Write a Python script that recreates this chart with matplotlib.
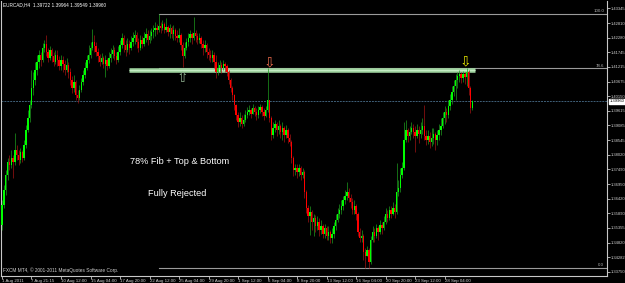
import matplotlib
matplotlib.use("Agg")
import matplotlib.pyplot as plt

# ---------------- data ----------------
chart_title = "EURCAD,H4  1.39722 1.39964 1.39549 1.39960"
copyright_text = "FXCM MT4, \u00a9 2001-2011 MetaQuotes Software Corp."
note_line1 = "78% Fib + Top & Bottom"
note_line2 = "Fully Rejected"

first_open = 1.3546
closes = [
 1.3619,1.3673,1.3728,1.3775,1.3764,1.3790,1.3775,1.3819,1.3801,1.3783,
 1.3812,1.3790,1.3837,1.3892,1.3935,1.3983,1.4045,1.4074,1.4110,1.4139,
 1.4165,1.4147,1.4190,1.4205,1.4176,1.4154,1.4183,1.4161,1.4139,1.4165,
 1.4147,1.4125,1.4147,1.4132,1.4110,1.4128,1.4103,1.4074,1.4045,1.4067,
 1.4019,1.4008,1.4037,1.4067,1.4092,1.4117,1.4147,1.4165,1.4190,1.4212,
 1.4198,1.4176,1.4161,1.4139,1.4154,1.4132,1.4147,1.4125,1.4154,1.4168,
 1.4183,1.4161,1.4147,1.4176,1.4201,1.4227,1.4201,1.4183,1.4205,1.4190,
 1.4212,1.4227,1.4238,1.4212,1.4190,1.4219,1.4205,1.4227,1.4241,1.4219,
 1.4234,1.4249,1.4256,1.4263,1.4256,1.4270,1.4263,1.4278,1.4256,1.4267,
 1.4249,1.4263,1.4241,1.4256,1.4234,1.4227,1.4238,1.4201,1.4161,1.4190,
 1.4212,1.4227,1.4241,1.4227,1.4245,1.4234,1.4219,1.4227,1.4205,1.4190,
 1.4201,1.4176,1.4165,1.4154,1.4165,1.4139,1.4103,1.4117,1.4128,1.4117,
 1.4132,1.4125,1.4103,1.4074,1.4045,1.4019,1.3983,1.3946,1.3921,1.3935,
 1.3914,1.3928,1.3946,1.3957,1.3965,1.3950,1.3972,1.3957,1.3946,1.3965,
 1.3975,1.3957,1.3943,1.3965,1.4001,1.3935,1.3874,1.3899,1.3914,1.3892,
 1.3906,1.3885,1.3899,1.3874,1.3892,1.3863,1.3848,1.3790,1.3746,1.3753,
 1.3739,1.3753,1.3728,1.3739,1.3666,1.3608,1.3579,1.3593,1.3557,1.3571,
 1.3542,1.3557,1.3528,1.3542,1.3513,1.3535,1.3506,1.3521,1.3499,1.3513,
 1.3542,1.3564,1.3586,1.3601,1.3615,1.3637,1.3652,1.3666,1.3644,1.3630,
 1.3601,1.3615,1.3586,1.3521,1.3499,1.3506,1.3448,1.3433,1.3455,1.3411,
 1.3491,1.3521,1.3506,1.3535,1.3521,1.3546,1.3535,1.3557,1.3586,1.3571,
 1.3601,1.3586,1.3608,1.3593,1.3666,1.3681,1.3728,1.3753,1.3855,1.3892,
 1.3870,1.3885,1.3899,1.3885,1.3870,1.3892,1.3877,1.3892,1.3906,1.3870,
 1.3855,1.3870,1.3848,1.3863,1.3877,1.3855,1.3874,1.3892,1.3906,1.3935,
 1.3957,1.3946,1.3979,1.4001,1.4030,1.4052,1.4074,1.4088,1.4096,1.4081,
 1.4096,1.4085,1.4103,1.4045,1.3972,1.3996]
highs = [
 1.3637,1.3692,1.3746,1.3790,1.3801,1.3819,1.3801,1.3881,1.3837,1.3819,
 1.3826,1.3819,1.3855,1.3910,1.3965,1.4001,1.4110,1.4103,1.4139,1.4165,
 1.4183,1.4176,1.4208,1.4219,1.4238,1.4190,1.4198,1.4190,1.4176,1.4183,
 1.4183,1.4161,1.4165,1.4161,1.4147,1.4154,1.4139,1.4117,1.4088,1.4092,
 1.4074,1.4037,1.4056,1.4081,1.4110,1.4139,1.4165,1.4201,1.4212,1.4259,
 1.4238,1.4212,1.4190,1.4168,1.4172,1.4161,1.4165,1.4154,1.4176,1.4190,
 1.4201,1.4194,1.4176,1.4198,1.4219,1.4245,1.4238,1.4219,1.4227,1.4219,
 1.4234,1.4249,1.4256,1.4249,1.4227,1.4238,1.4234,1.4249,1.4263,1.4256,
 1.4256,1.4263,1.4274,1.4285,1.4278,1.4314,1.4285,1.4292,1.4285,1.4299,
 1.4274,1.4278,1.4270,1.4274,1.4263,1.4256,1.4263,1.4245,1.4212,1.4212,
 1.4227,1.4245,1.4256,1.4249,1.4303,1.4256,1.4245,1.4245,1.4234,1.4219,
 1.4219,1.4208,1.4190,1.4183,1.4183,1.4176,1.4165,1.4139,1.4147,1.4139,
 1.4147,1.4139,1.4132,1.4110,1.4081,1.4052,1.4023,1.3986,1.3957,1.3957,
 1.3946,1.3950,1.3965,1.3975,1.3983,1.3972,1.3986,1.3979,1.3972,1.3979,
 1.3986,1.3983,1.3972,1.3979,1.4117,1.4001,1.3943,1.3921,1.3928,1.3921,
 1.3928,1.3914,1.3921,1.3906,1.3910,1.3899,1.3877,1.3855,1.3797,1.3768,
 1.3768,1.3768,1.3761,1.3753,1.3746,1.3673,1.3619,1.3615,1.3601,1.3586,
 1.3583,1.3579,1.3571,1.3564,1.3550,1.3550,1.3542,1.3542,1.3528,1.3535,
 1.3557,1.3586,1.3608,1.3622,1.3637,1.3652,1.3673,1.3703,1.3681,1.3659,
 1.3644,1.3637,1.3622,1.3593,1.3535,1.3528,1.3513,1.3462,1.3470,1.3462,
 1.3506,1.3542,1.3535,1.3550,1.3542,1.3564,1.3557,1.3579,1.3608,1.3601,
 1.3615,1.3615,1.3630,1.3622,1.3772,1.3710,1.3753,1.3775,1.3921,1.3928,
 1.3899,1.3906,1.3921,1.3914,1.3906,1.3914,1.3906,1.3921,1.3935,1.3983,
 1.3892,1.3892,1.3885,1.3899,1.3899,1.3885,1.3892,1.3914,1.3935,1.3957,
 1.3979,1.3972,1.4001,1.4023,1.4052,1.4074,1.4096,1.4103,1.4110,1.4103,
 1.4107,1.4103,1.4117,1.4110,1.4052,1.4001]
lows = [
 1.3528,1.3608,1.3655,1.3710,1.3746,1.3753,1.3717,1.3764,1.3783,1.3764,
 1.3772,1.3775,1.3783,1.3826,1.3885,1.3921,1.3972,1.4019,1.4056,1.4092,
 1.4117,1.4125,1.4139,1.4176,1.4161,1.4139,1.4147,1.4139,1.4125,1.4132,
 1.4125,1.4110,1.4110,1.4103,1.4092,1.4103,1.4081,1.4056,1.4026,1.4030,
 1.4001,1.3990,1.4001,1.4030,1.4056,1.4081,1.4110,1.4136,1.4154,1.4183,
 1.4176,1.4161,1.4139,1.4125,1.4132,1.4117,1.4085,1.4110,1.4117,1.4139,
 1.4154,1.4147,1.4132,1.4139,1.4165,1.4190,1.4176,1.4161,1.4176,1.4168,
 1.4183,1.4198,1.4205,1.4190,1.4176,1.4183,1.4190,1.4198,1.4212,1.4201,
 1.4208,1.4219,1.4227,1.4234,1.4241,1.4249,1.4245,1.4256,1.4245,1.4249,
 1.4234,1.4227,1.4227,1.4219,1.4219,1.4212,1.4212,1.4183,1.4121,1.4154,
 1.4183,1.4198,1.4212,1.4205,1.4219,1.4212,1.4205,1.4208,1.4190,1.4165,
 1.4176,1.4154,1.4147,1.4139,1.4139,1.4117,1.4081,1.4092,1.4103,1.4099,
 1.4110,1.4103,1.4088,1.4059,1.4030,1.4001,1.3965,1.3928,1.3903,1.3906,
 1.3899,1.3906,1.3921,1.3935,1.3946,1.3935,1.3950,1.3943,1.3928,1.3935,
 1.3954,1.3943,1.3928,1.3939,1.3957,1.3921,1.3855,1.3863,1.3885,1.3870,
 1.3877,1.3863,1.3855,1.3848,1.3863,1.3845,1.3834,1.3772,1.3724,1.3728,
 1.3717,1.3724,1.3710,1.3717,1.3644,1.3590,1.3557,1.3510,1.3528,1.3506,
 1.3521,1.3528,1.3506,1.3513,1.3499,1.3499,1.3491,1.3491,1.3480,1.3480,
 1.3499,1.3528,1.3557,1.3571,1.3586,1.3601,1.3622,1.3637,1.3630,1.3608,
 1.3586,1.3586,1.3564,1.3506,1.3484,1.3484,1.3419,1.3389,1.3433,1.3389,
 1.3404,1.3484,1.3484,1.3499,1.3491,1.3513,1.3513,1.3528,1.3550,1.3557,
 1.3564,1.3571,1.3583,1.3571,1.3586,1.3652,1.3666,1.3717,1.3746,1.3848,
 1.3848,1.3855,1.3877,1.3863,1.3812,1.3863,1.3845,1.3863,1.3877,1.3855,
 1.3837,1.3841,1.3826,1.3834,1.3841,1.3819,1.3837,1.3855,1.3874,1.3899,
 1.3914,1.3921,1.3935,1.3965,1.3986,1.4016,1.4001,1.4045,1.4067,1.4063,
 1.4067,1.4059,1.4052,1.4019,1.3954,1.3965]

x_tick_bars = [0, 16, 32, 48, 64, 80, 96, 112, 128, 144, 160, 176, 192, 208, 224, 240]
x_tick_labels = ["1 Aug 2011", "7 Aug 21:15", "10 Aug 12:00", "15 Aug 04:00",
                 "17 Aug 20:00", "22 Aug 12:00", "25 Aug 04:00", "29 Aug 20:00",
                 "1 Sep 12:00", "6 Sep 04:00", "8 Sep 20:00", "13 Sep 12:00",
                 "16 Sep 04:00", "20 Sep 20:00", "23 Sep 12:00", "28 Sep 04:00"]
y_tick_values = [1.43345, 1.42810, 1.42280, 1.41745, 1.41215, 1.40675, 1.40150,
                 1.39615, 1.39085, 1.38545, 1.38020, 1.37490, 1.36950, 1.36420,
                 1.35890, 1.35355, 1.34820, 1.34282, 1.33750]

current_price = 1.39960
fib_high = 1.4314
fib_low = 1.3389
fib_start_bar = 85
fib_levels = [0.0, 78.6, 100.0]
zone_price = 1.4109
zone_start_bar = 68.9
zone_end_bar = 256.4
arrow_marks = [  # (bar, price, glyph, colour)
    (97.6, 1.4082, "\u21e7", "#8fb08f"),
    (144.8, 1.4136, "\u21e9", "#e8694a"),
    (251.6, 1.4140, "\u21e9", "#e8e800"),
]

# ---------------- figure ----------------
W, H = 625, 283
FONT = "Liberation Sans"
fig = plt.figure(figsize=(W / 100, H / 100), dpi=100, facecolor="black")
ax = fig.add_axes([1 / W, 7 / H, 606 / W, 275 / H], facecolor="black")
ax.set_xlim(-0.54, 328.1)
ax.set_ylim(1.33604, 1.43614)

GREY = "#9a9a9a"

# current price line
ax.axhline(current_price, color="#3f5f78", lw=0.7, ls=(0, (2, 1)), zorder=1)

# fibonacci lines
for lev in fib_levels:
    p = fib_low + (fib_high - fib_low) * lev / 100.0
    ax.plot([fib_start_bar, 328.1], [p, p], color=GREY, lw=0.8, zorder=2)
    ax.annotate(f"{lev:.1f}", xy=(1.0, p), xycoords=("axes fraction", "data"),
                xytext=(-2, 0.5), textcoords="offset points", ha="right", va="bottom",
                color="#b0b0b0", fontsize=3.2, family=FONT)

# zone band
ax.plot([zone_start_bar, zone_end_bar], [zone_price, zone_price], color="#9fd39f",
        lw=3.3, solid_capstyle="butt", zorder=3)
ax.plot([zone_start_bar, zone_end_bar], [zone_price, zone_price], color="#c4ecc4",
        lw=0.8, solid_capstyle="butt", zorder=3)

# candles
opens = [first_open] + closes[:-1]
for i, (o, h, l, c) in enumerate(zip(opens, highs, lows, closes)):
    up = c >= o
    wick_col = "#1e9a1e" if up else "#a01414"
    body_col = "#00ff00" if up else "#ff0000"
    ax.vlines(i, min(l, o, c), max(h, o, c), color=wick_col, lw=0.5, zorder=4)
    lo_b, hi_b = min(o, c), max(o, c)
    if hi_b - lo_b < 0.00015:
        hi_b = lo_b + 0.00015
    ax.bar(i, hi_b - lo_b, bottom=lo_b, width=0.75, color=body_col, lw=0, zorder=5)

# arrows
for b, p, g, col in arrow_marks:
    ax.text(b, p, g, color=col, fontsize=10, ha="center", va="center",
            family="DejaVu Sans", zorder=6)

# axes styling
ax.spines["top"].set_visible(False)
for s in ["left", "bottom", "right"]:
    ax.spines[s].set_color("#c8c8c8")
    ax.spines[s].set_linewidth(0.8)
ax.yaxis.tick_right()
ax.set_yticks(y_tick_values)
ax.set_yticklabels([f"{v:.5f}" for v in y_tick_values])
ax.tick_params(axis="y", colors="#c8c8c8", length=2, width=0.6, pad=0.8,
               labelsize=3.0, labelcolor="#d0d0d0")
ax.set_xticks(x_tick_bars)
ax.set_xticklabels(x_tick_labels, ha="left")
ax.tick_params(axis="x", colors="#c8c8c8", length=2, width=0.6, pad=0.5,
               labelsize=3.2, labelcolor="#d0d0d0")
for lab in ax.get_xticklabels() + ax.get_yticklabels():
    lab.set_family(FONT)

# current price label
ax.annotate(f"{current_price:.5f}", xy=(1.0, current_price),
            xycoords=("axes fraction", "data"), xytext=(1.6, 0),
            textcoords="offset points", ha="left", va="center", fontsize=3.0,
            family=FONT, color="black",
            bbox=dict(boxstyle="square,pad=0.15", fc="white", ec="white"))

# texts
def fpos(x, y):
    return x / W, 1 - y / H

fig.text(*fpos(3, 5), chart_title, color="white", fontsize=3.4,
         family=FONT, va="center", ha="left")
fig.text(*fpos(3, 270), copyright_text, color="#d0d0d0", fontsize=3.4,
         family=FONT, va="center", ha="left")
fig.text(*fpos(180, 162), note_line1, color="white", fontsize=6.6,
         family=FONT, va="center", ha="center")
fig.text(*fpos(177, 193), note_line2, color="white", fontsize=6.6,
         family=FONT, va="center", ha="center")

fig.savefig("out.png", dpi=100, facecolor="black")
